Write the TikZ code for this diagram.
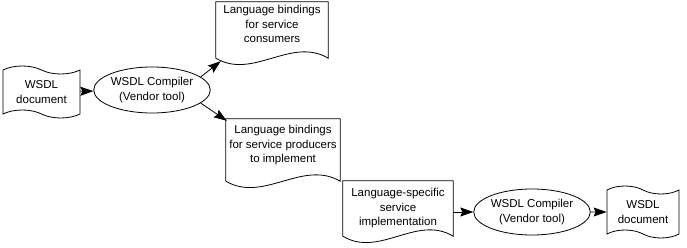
\documentclass[tikz,border=0pt]{standalone}
\usepackage{fontspec}
\setmainfont{Liberation Sans}
\usetikzlibrary{positioning,arrows.meta,shapes.geometric,shapes.symbols,calc}

\begin{document}
\begin{tikzpicture}[
  x=1pt, y=-1pt,
  font=\fontsize{11.5}{14.5}\selectfont,
  >={Stealth[length=13pt,width=9pt,inset=2pt]},
  wsdl/.style={tape, draw, line width=0.8pt, align=center, inner sep=0pt,
               tape bend top=out and in, tape bend bottom=out and in, tape bend height=8pt},
  compiler/.style={ellipse, draw, line width=0.8pt, align=center, inner sep=0pt,
                   minimum width=97pt, minimum height=46pt},
  docbox/.style={rectangle, align=center, inner sep=0pt},
  flow/.style={->, line width=0.8pt},
]
\useasboundingbox (0,0) rectangle (687,248);

% ---- first compiler run ----
\node[wsdl, minimum width=77pt, minimum height=52pt] (wsdlin) at (41.5,92) {WSDL\\document};
\node[compiler] (comp1) at (152,90) {WSDL Compiler\\(Vendor tool)};

% ---- generated bindings ----
\node[docbox, minimum width=112pt, minimum height=56pt] (cons) at (272,30)
      {Language bindings\\for service\\consumers\\[-3pt]};
\node[docbox, minimum width=114pt, minimum height=62pt] (prod) at (283,150)
      {Language bindings\\for service producers\\to implement\\[-3pt]};

% ---- second compiler run ----
\node[docbox, minimum width=110pt, minimum height=55pt] (impl) at (398,208.5)
      {Language-specific\\service\\implementation};
\node[compiler, minimum width=99pt] (comp2) at (532,212) {WSDL Compiler\\(Vendor tool)};
\node[wsdl, minimum width=72pt, minimum height=52pt] (wsdlout) at (643,212) {WSDL\\document};

% ---- document outlines (wavy bottom) ----
\foreach \d in {cons,prod,impl}{
  \draw[line width=0.8pt] (\d.south west) -- (\d.north west) -- (\d.north east) -- (\d.south east)
    .. controls ($(\d.south west)!0.67!(\d.south east)+(0,-22)$)
       and ($(\d.south west)!0.33!(\d.south east)+(0,22)$) .. (\d.south west);
}

% ---- edges ----
\draw[flow] (wsdlin) -- (comp1);
\draw[flow] (comp1.15) -- ([xshift=5pt,yshift=-3pt]cons.south west);
\draw[flow] (comp1.-15) -- ([xshift=1pt,yshift=-2pt]prod.north west);
\draw[flow] (impl.east |- comp2) -- (comp2);
\draw[flow] (comp2) -- (wsdlout);
\end{tikzpicture}
\end{document}
